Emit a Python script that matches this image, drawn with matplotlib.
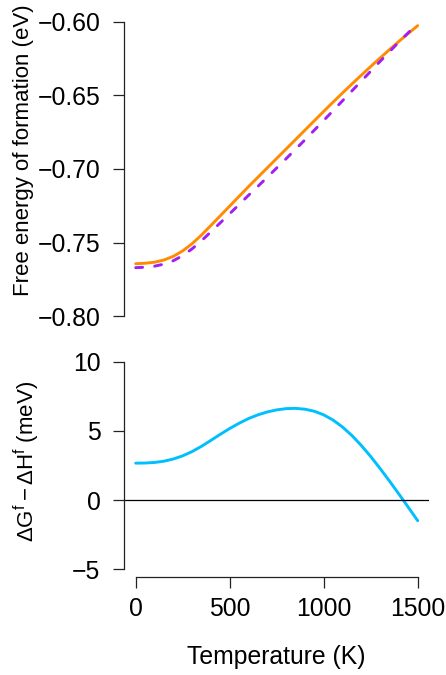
import matplotlib
matplotlib.use('Agg')
import matplotlib.pyplot as plt
import numpy as np

plt.rcParams['font.family'] = ['Liberation Sans', 'DejaVu Sans']
plt.rcParams['mathtext.fontset'] = 'custom'
plt.rcParams['mathtext.rm'] = 'Liberation Sans'
plt.rcParams['mathtext.it'] = 'Liberation Sans'
plt.rcParams['lines.scale_dashes'] = False

# data
temperature = [0, 50, 100, 150, 200, 250, 300, 350, 400, 450, 500, 550, 600, 650, 700, 750,
               800, 850, 900, 950, 1000, 1050, 1100, 1150, 1200, 1250, 1300, 1350, 1400,
               1450, 1500]
free_energy = [-0.7644, -0.7641, -0.7634, -0.7619, -0.7594, -0.7557, -0.7508, -0.7449,
               -0.7384, -0.7318, -0.7252, -0.7186, -0.7120, -0.7056, -0.6992, -0.6928,
               -0.6864, -0.6800, -0.6736, -0.6672, -0.6608, -0.6545, -0.6483, -0.6422,
               -0.6362, -0.6303, -0.6245, -0.6188, -0.6132, -0.6078, -0.6025]
enthalpy = [-0.7671, -0.7668, -0.7661, -0.7647, -0.7624, -0.7589, -0.7543, -0.7488,
            -0.7427, -0.7366, -0.7304, -0.7242, -0.7179, -0.7118, -0.7056, -0.6993,
            -0.6930, -0.6866, -0.6802, -0.6736, -0.6670, -0.6603, -0.6536, -0.6469,
            -0.6402, -0.6335, -0.6268, -0.6202, -0.6136, -0.6073, -0.6010]
difference_mev = [2.67, 2.68, 2.72, 2.81, 2.97, 3.20, 3.51, 3.89, 4.32, 4.76, 5.18, 5.56,
                  5.90, 6.17, 6.38, 6.53, 6.62, 6.64, 6.58, 6.43, 6.17, 5.79, 5.29, 4.67,
                  3.95, 3.15, 2.28, 1.37, 0.43, -0.53, -1.50]

top_ticks = [-0.80, -0.75, -0.70, -0.65, -0.60]
bottom_ticks = [-5, 0, 5, 10]
x_ticks = [0, 500, 1000, 1500]

W, H = 446, 675
fig = plt.figure(figsize=(W / 100, H / 100), dpi=100)

fs = 17.8
tick_kw = dict(length=8, width=0.9, color='#222222', pad=9.2, labelsize=fs)

# Top panel
ax1 = fig.add_axes([124.4 / W, 1 - 327.8 / H, 304.6 / W, 317.6 / H])
ax1.plot(temperature, free_energy, color='#FF8C00', lw=2.1, solid_capstyle='round',
         solid_joinstyle='round')
ax1.plot(temperature, enthalpy, color='#A020F0', lw=2.1, dashes=(5.0, 8.7),
         dash_capstyle='round')
ax1.set_xlim(-60, 1560)
ax1.set_ylim(-0.808, -0.592)
for s in ['top', 'right', 'bottom']:
    ax1.spines[s].set_visible(False)
ax1.spines['left'].set_bounds(-0.80, -0.60)
ax1.spines['left'].set_linewidth(0.9)
ax1.spines['left'].set_color('#222222')
ax1.set_xticks([])
ax1.set_yticks(top_ticks)
ax1.set_yticklabels(['\u2212%.2f' % abs(v) for v in top_ticks])
ax1.tick_params(axis='y', **tick_kw)

# Bottom panel
ax2 = fig.add_axes([124.4 / W, 1 - 577.3 / H, 304.6 / W, 223.6 / H])
ax2.plot(temperature, difference_mev, color='#00BFFF', lw=2.1, solid_capstyle='round',
         solid_joinstyle='round')
ax2.axhline(0, color='black', lw=0.9)
ax2.set_xlim(-60, 1560)
ax2.set_ylim(-5.6, 10.6)
for s in ['top', 'right']:
    ax2.spines[s].set_visible(False)
ax2.spines['left'].set_bounds(-5, 10)
ax2.spines['bottom'].set_bounds(0, 1500)
for s in ['left', 'bottom']:
    ax2.spines[s].set_linewidth(0.9)
    ax2.spines[s].set_color('#222222')
ax2.set_yticks(bottom_ticks)
ax2.set_yticklabels(['\u22125', '0', '5', '10'])
ax2.set_xticks(x_ticks)
ax2.set_xticklabels([str(v) for v in x_ticks])
ax2.tick_params(axis='both', **tick_kw)
ax2.tick_params(axis='x', pad=6.5)

fig.text(23.5 / W, 1 - 150 / H, 'Free energy of formation (eV)', rotation=90,
         ha='center', va='center', fontsize=16)
fig.text(27 / W, 1 - 461.5 / H, r'$\Delta\mathrm{G}^{\mathrm{f}}-\Delta\mathrm{H}^{\mathrm{f}}$ (meV)',
         rotation=90, ha='center', va='center', fontsize=16)
fig.text(276.7 / W, 1 - 656.7 / H, 'Temperature (K)', ha='center', va='center', fontsize=fs)

fig.savefig('out.png', dpi=100)
